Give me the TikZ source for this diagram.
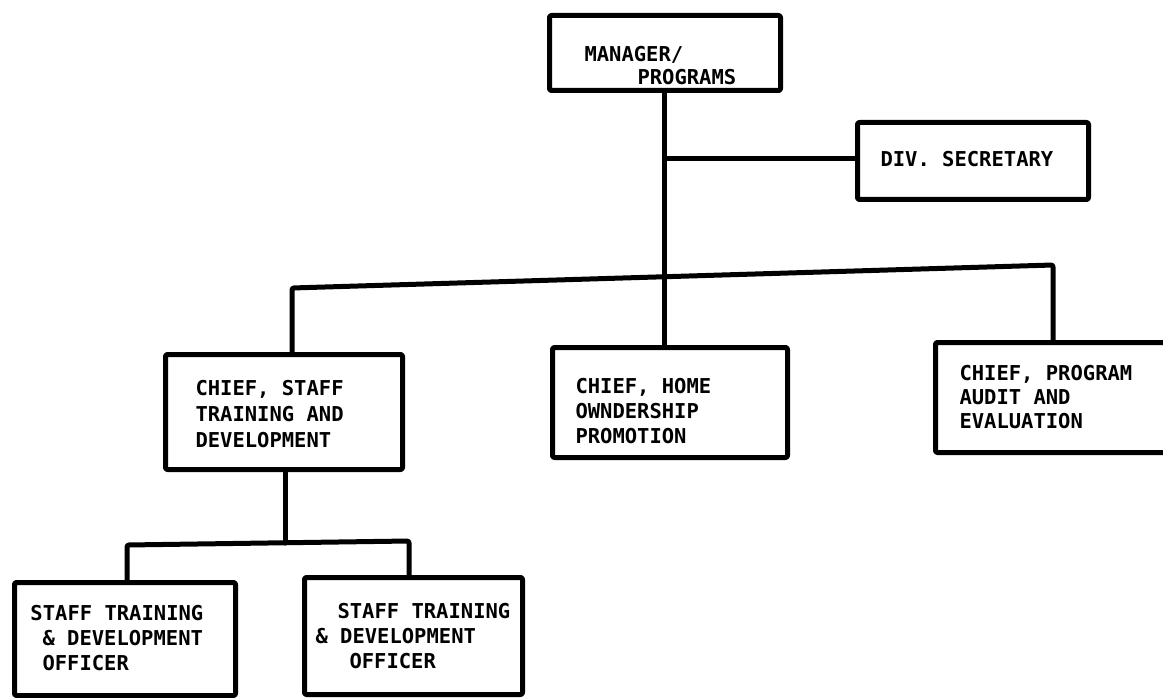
\documentclass[tikz,border=0pt]{standalone}
\usepackage{fontspec}
\setmonofont{DejaVu Sans Mono}
\begin{document}
\begin{tikzpicture}[x=1pt,y=-1pt,
  line width=5pt, line join=round, line cap=round,
  orgbox/.style={draw, line width=5pt, rounded corners=2pt, inner sep=0pt, anchor=north west},
  lbl/.style={anchor=base west, inner sep=0pt, font=\ttfamily\bfseries\fontsize{20.5}{25}\selectfont}]
\useasboundingbox (0,0) rectangle (1163,698);
\clip (0,0) rectangle (1163,698);

% boxes, sized from their corners
\node[orgbox, minimum width=231pt, minimum height=75pt] (mgr) at (547,13) {};
\node[orgbox, minimum width=231pt, minimum height=77pt] (sec) at (855,120) {};
\node[orgbox, minimum width=237pt, minimum height=115pt] (cst) at (163,352) {};
\node[orgbox, minimum width=235pt, minimum height=110pt] (chp) at (550,345) {};
\node[orgbox, minimum width=260pt, minimum height=110pt] (cpa) at (933,340) {};
\node[orgbox, minimum width=221pt, minimum height=113pt] (so1) at (12,580) {};
\node[orgbox, minimum width=218pt, minimum height=117pt] (so2) at (302,575) {};

% labels
\node[lbl] (t1) at (582,62) {MANAGER/};
\node[lbl] (t2) at (635,85) {PROGRAMS};
\node[lbl] (t3) at (878,167) {DIV. SECRETARY};
\node[lbl] (t4) at (193,395) {CHIEF, STAFF};
\node[lbl] (t5) at (193,421) {TRAINING AND};
\node[lbl] (t6) at (193,447) {DEVELOPMENT};
\node[lbl] (t7) at (573,393) {CHIEF, HOME};
\node[lbl] (t8) at (573,418) {OWNDERSHIP};
\node[lbl] (t9) at (573,443) {PROMOTION};
\node[lbl] (t10) at (957,380) {CHIEF, PROGRAM};
\node[lbl] (t11) at (957,404) {AUDIT AND};
\node[lbl] (t12) at (957,428) {EVALUATION};
\node[lbl] (t13) at (28,620) {STAFF TRAINING};
\node[lbl] (t14) at (40,645) {\& DEVELOPMENT};
\node[lbl] (t15) at (40,670) {OFFICER};
\node[lbl] (t16) at (335,618) {STAFF TRAINING};
\node[lbl] (t17) at (313,643) {\& DEVELOPMENT};
\node[lbl] (t18) at (347,668) {OFFICER};

% connector junctions
\coordinate (jsec) at (665,159);
\coordinate (jbus) at (664,277);
\coordinate (busL) at (292,288);
\coordinate (busR) at (1053,265);
\coordinate (subL) at (127,545);
\coordinate (subM) at (285,543);
\coordinate (subR) at (409,541);

% connectors
\draw (mgr.south -| jbus) -- (jbus);
\draw (jsec) -- (jsec -| sec.west);
\draw[rounded corners=2pt] (cst.north -| busL) -- (busL) -- (busR) -- (busR |- cpa.north);
\draw (jbus) -- (jbus |- chp.north);
\draw (cst.south -| subM) -- (subM);
\draw[rounded corners=2pt] (so1.north -| subL) -- (subL) -- (subR) -- (subR |- so2.north);
\end{tikzpicture}
\end{document}
